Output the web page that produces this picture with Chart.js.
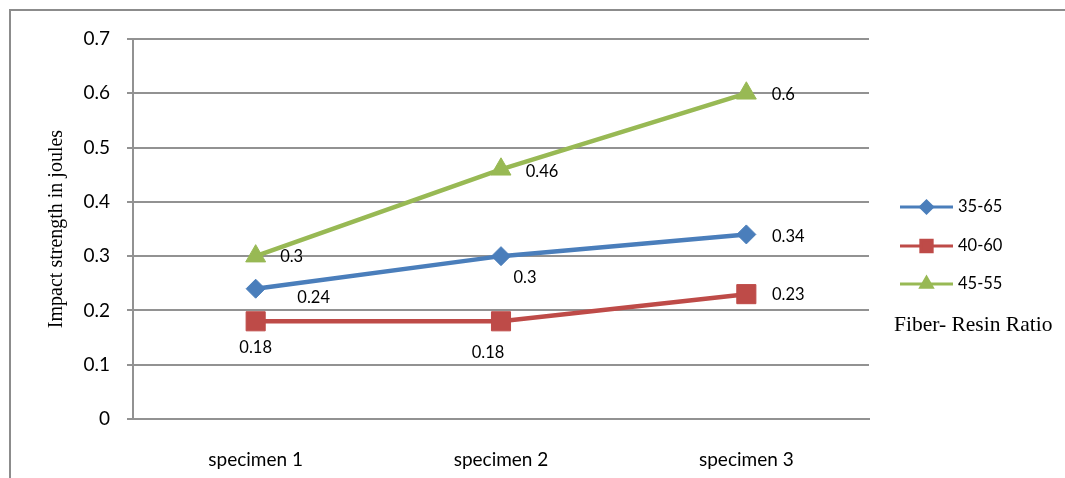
<!DOCTYPE html>
<html>
<head>
<meta charset="utf-8">
<title>Impact strength by fiber-resin ratio</title>
<script src="https://cdn.jsdelivr.net/npm/chart.js@4/dist/chart.umd.min.js"></script>
<style>
  html, body { margin: 0; padding: 0; background: #ffffff; overflow: hidden; }
  #wrap { width: 1065px; height: 478px; }
  canvas { display: block; }
</style>
</head>
<body>
<div id="wrap"><canvas id="c" width="1065" height="478"></canvas></div>
<script>
// ---- data ----
const specimens = ['specimen 1', 'specimen 2', 'specimen 3'];
const ratio3565 = [0.24, 0.30, 0.34];
const ratio4060 = [0.18, 0.18, 0.23];
const ratio4555 = [0.30, 0.46, 0.60];
const seriesNames = ['35-65', '40-60', '45-55'];
const yTickValues = [0, 0.1, 0.2, 0.3, 0.4, 0.5, 0.6, 0.7];
const yTickLabels = ['0', '0.1', '0.2', '0.3', '0.4', '0.5', '0.6', '0.7'];
const yTitle = 'Impact strength in joules';
const legendTitle = 'Fiber- Resin Ratio';

// ---- styling ----
const colors = ['#4a7ebb', '#be4b48', '#98b954'];
const markers = [
  { style: 'rectRot', radius: 9.5, legendRadius: 6 },
  { style: 'rect', radius: 13.5, legendRadius: 8 },
  { style: 'triangle', radius: 11.5, legendRadius: 6.5 }
];
// where each value label sits relative to its point (dx, dy in px)
const labelOffsets = [
  [[58, 9], [24, 22], [42, 2]],
  [[0, 26], [-13, 31], [42, 1]],
  [[36, 1], [41, 2], [37, 1]]
];
const gridColor = '#929292';
const sansFont = 'Lato, "Open Sans", sans-serif';
const serifFont = '"Liberation Serif", "DejaVu Serif", serif';

const datasets = [ratio3565, ratio4060, ratio4555].map((vals, i) => ({
  label: seriesNames[i],
  data: vals,
  borderColor: colors[i],
  backgroundColor: colors[i],
  borderWidth: 4.5,
  tension: 0,
  pointStyle: markers[i].style,
  pointRadius: markers[i].radius,
  pointHoverRadius: markers[i].radius,
  pointBorderWidth: 1,
  pointBackgroundColor: colors[i],
  pointBorderColor: colors[i]
}));

const decorPlugin = {
  id: 'decor',
  beforeDraw(chart) {
    const ctx = chart.ctx;
    ctx.save();
    ctx.fillStyle = '#ffffff';
    ctx.fillRect(0, 0, chart.width, chart.height);
    // outer frame (top and left edges)
    ctx.strokeStyle = '#8c8c8c';
    ctx.lineWidth = 2;
    ctx.beginPath();
    ctx.moveTo(chart.width + 10, 10);
    ctx.lineTo(10, 10);
    ctx.lineTo(10, chart.height + 10);
    ctx.stroke();
    ctx.restore();
  },
  afterDraw(chart) {
    const ctx = chart.ctx;
    const area = chart.chartArea;
    ctx.save();
    // axis title
    ctx.fillStyle = '#000000';
    ctx.font = '20px ' + serifFont;
    ctx.textAlign = 'center';
    ctx.textBaseline = 'middle';
    ctx.translate(57, (area.top + area.bottom) / 2);
    ctx.rotate(-Math.PI / 2);
    ctx.fillText(yTitle, 0, 0);
    ctx.restore();

    // value labels
    ctx.save();
    ctx.fillStyle = '#000000';
    ctx.font = '16.5px ' + sansFont;
    ctx.textAlign = 'center';
    ctx.textBaseline = 'middle';
    chart.data.datasets.forEach((ds, i) => {
      const meta = chart.getDatasetMeta(i);
      meta.data.forEach((pt, j) => {
        const off = labelOffsets[i][j];
        ctx.fillText(String(ds.data[j]), pt.x + off[0], pt.y + off[1]);
      });
    });
    ctx.restore();

    // legend
    ctx.save();
    const lx0 = 900, lx1 = 953, ys = [207, 246, 284];
    chart.data.datasets.forEach((ds, i) => {
      const y = ys[i];
      ctx.strokeStyle = colors[i];
      ctx.lineWidth = 3;
      ctx.beginPath();
      ctx.moveTo(lx0, y);
      ctx.lineTo(lx1, y);
      ctx.stroke();
      ctx.fillStyle = colors[i];
      ctx.strokeStyle = colors[i];
      Chart.helpers.drawPoint(ctx, {
        pointStyle: markers[i].style,
        radius: markers[i].legendRadius,
        rotation: 0,
        borderWidth: 1
      }, (lx0 + lx1) / 2, y);
      ctx.fillStyle = '#000000';
      ctx.font = '16.5px ' + sansFont;
      ctx.textAlign = 'left';
      ctx.textBaseline = 'middle';
      ctx.fillText(ds.label, 958, y);
    });
    ctx.font = '21.5px ' + serifFont;
    ctx.textAlign = 'left';
    ctx.textBaseline = 'middle';
    ctx.fillStyle = '#000000';
    ctx.fillText(legendTitle, 894, 325);
    ctx.restore();
  }
};

new Chart(document.getElementById('c'), {
  type: 'line',
  data: { labels: specimens, datasets: datasets },
  options: {
    responsive: false,
    animation: false,
    events: [],
    layout: { padding: { left: 0, top: 39, right: 196, bottom: 0 } },
    plugins: {
      legend: { display: false },
      title: { display: false },
      tooltip: { enabled: false }
    },
    scales: {
      x: {
        type: 'category',
        offset: true,
        grid: { display: true, drawOnChartArea: false, drawTicks: false },
        border: { display: true, color: gridColor, width: 2 },
        ticks: {
          color: '#000000',
          font: { family: sansFont, size: 19 },
          padding: 29,
          maxRotation: 0
        },
        afterFit(scale) { scale.height = 59; }
      },
      y: {
        min: 0,
        max: 0.7,
        afterBuildTicks(scale) {
          scale.ticks = yTickValues.map(v => ({ value: v }));
        },
        grid: { color: gridColor, lineWidth: 2, tickLength: 6, drawTicks: true },
        border: { display: true, color: gridColor, width: 2 },
        ticks: {
          color: '#000000',
          font: { family: sansFont, size: 19 },
          padding: 17,
          callback(value) {
            const k = yTickValues.findIndex(v => Math.abs(v - value) < 1e-9);
            return k >= 0 ? yTickLabels[k] : '';
          }
        },
        afterFit(scale) { scale.width = 133; }
      }
    }
  },
  plugins: [decorPlugin]
});
</script>
</body>
</html>
